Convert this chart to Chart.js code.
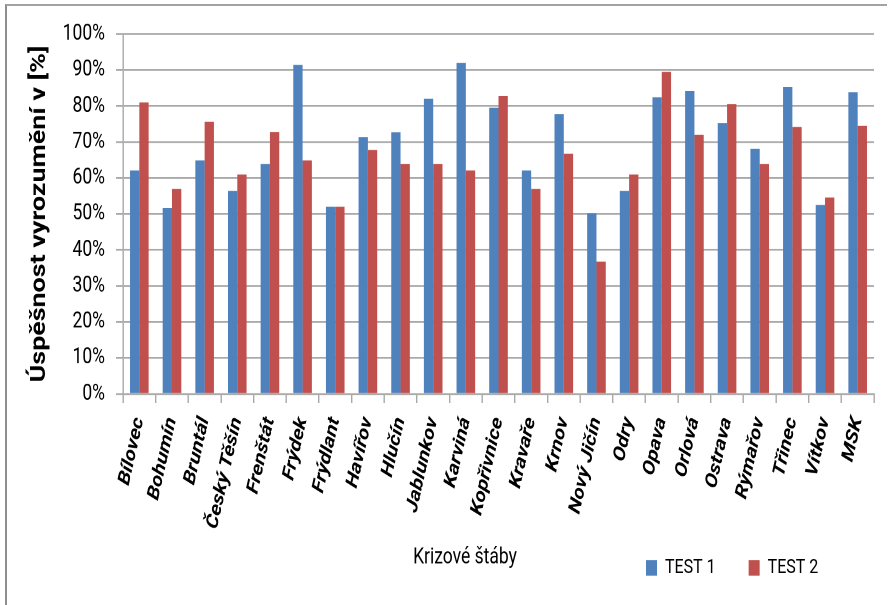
<!DOCTYPE html>
<html>
<head>
<meta charset="utf-8">
<title>Krizové štáby – TEST 1 / TEST 2</title>
<script src="https://cdn.jsdelivr.net/npm/chart.js@4.4.1/dist/chart.umd.min.js"></script>
<style>
  html, body { margin: 0; padding: 0; background: #ffffff; }
  #page { position: relative; width: 890px; height: 605px; overflow: hidden; }
  #frame {
    position: absolute; left: 5px; top: 4px; width: 880px; height: 640px;
    border-left: 2px solid #8e8e8e; border-top: 2px solid #a3a3a3;
    pointer-events: none;
  }
  /* the chart is laid out at 890x473 and shown stretched to the full 605 px height */
  #stretch {
    position: absolute; left: 0; top: 0; width: 890px; height: 473px;
    transform-origin: 0 0;
  }
</style>
</head>
<body>
<div id="page">
  <div id="stretch"><canvas id="chart" width="890" height="473"></canvas></div>
  <div id="frame"></div>
</div>
<script>
// Crisis staffs (krizové štáby) of the Moravian-Silesian region
const categories = [
  'Bílovec', 'Bohumín', 'Bruntál', 'Český Těšín', 'Frenštát', 'Frýdek',
  'Frýdlant', 'Havířov', 'Hlučín', 'Jablunkov', 'Karviná', 'Kopřivnice',
  'Kravaře', 'Krnov', 'Nový Jičín', 'Odry', 'Opava', 'Orlová', 'Ostrava',
  'Rýmařov', 'Třinec', 'Vítkov', 'MSK'
];

// Notification success rate in percent
const test1 = [
  62.1, 51.7, 64.9, 56.4, 63.9, 91.4, 52.0, 71.4, 72.7, 82.0, 92.0, 79.5,
  62.1, 77.8, 50.2, 56.4, 82.4, 84.2, 75.3, 68.1, 85.3, 52.5, 83.8
];
const test2 = [
  81.0, 57.0, 75.6, 61.0, 72.8, 64.9, 52.0, 67.8, 63.9, 63.9, 62.1, 82.8,
  57.0, 66.7, 36.8, 61.0, 89.5, 72.0, 80.5, 63.9, 74.2, 54.6, 74.5
];

const seriesNames = ['TEST 1', 'TEST 2'];

// Value axis: 0 % – 100 % in steps of 10 %
const yMin = 0;
const yMax = 100;
const yStep = 10;

const xAxisTitle = 'Krizové štáby';
const yAxisTitle = 'Úspěšnost vyrozumění v [%]';

// Styling and layout (chart units; the canvas is stretched vertically by STRETCH)
const W = 890, H = 473;
const STRETCH = 605 / H;
document.getElementById('stretch').style.transform = 'scaleY(' + STRETCH + ')';

const BLUE = '#4F81BD';
const RED = '#C0504D';
const GRID = '#a9a9a9';
const FONT = 'Roboto, "Liberation Sans", Arial, sans-serif';

const PAD = { left: 6, top: 26.6, right: 16, bottom: 0 };
const PLOT_LEFT = 123;
const PLOT_BOTTOM = 308;

const LEGEND_FONT = 16;
const LEGEND_BOX_H = 12;
const LEGEND_PAD = 33;
const LEGEND_LEFT = 646;
const LEGEND_MID_Y = 444;

const TITLE_CX = 465;
const TITLE_CY = 436;

// Puts the legend row and the category-axis caption side by side under the labels
const placeCaptions = {
  id: 'placeCaptions',
  afterLayout(chart) {
    const lg = chart.legend;
    if (lg) {
      const dx = LEGEND_LEFT - (lg.left + LEGEND_PAD);
      lg.left += dx; lg.right += dx;
      const itemH = Math.max(LEGEND_FONT, LEGEND_BOX_H);
      lg.top = LEGEND_MID_Y - LEGEND_PAD - itemH / 2;
      lg.bottom = lg.top + itemH + 2 * LEGEND_PAD;
    }
    const tb = chart.titleBlock;
    if (tb) {
      const w = tb.right - tb.left;
      const h = tb.bottom - tb.top;
      tb.left = TITLE_CX - w / 2; tb.right = TITLE_CX + w / 2;
      tb.top = TITLE_CY - h / 2; tb.bottom = tb.top + h;
    }
  }
};

new Chart(document.getElementById('chart'), {
  type: 'bar',
  data: {
    labels: categories,
    datasets: [
      { label: seriesNames[0], data: test1, backgroundColor: BLUE, borderWidth: 0 },
      { label: seriesNames[1], data: test2, backgroundColor: RED, borderWidth: 0 }
    ]
  },
  options: {
    responsive: false,
    animation: false,
    devicePixelRatio: 2,
    layout: { padding: PAD },
    datasets: { bar: { categoryPercentage: 0.57, barPercentage: 1.0 } },
    scales: {
      x: {
        grid: {
          display: true, drawOnChartArea: false, offset: true,
          tickLength: 7, color: GRID, lineWidth: 1.4
        },
        border: { display: true, color: GRID, width: 1.4 },
        ticks: {
          autoSkip: false, minRotation: 74, maxRotation: 74, padding: 9,
          color: '#000',
          font: { family: FONT, size: 17, weight: 'bold', style: 'italic' }
        },
        afterFit(scale) {
          const c = scale.chart;
          const below = (c.legend ? c.legend.height : 0) + (c.titleBlock ? c.titleBlock.height : 0);
          scale.height = c.height - PAD.bottom - below - PLOT_BOTTOM;
        }
      },
      y: {
        min: yMin, max: yMax,
        ticks: {
          stepSize: yStep,
          callback: v => v + '%',
          padding: 11,
          color: '#000',
          font: { family: FONT, size: 17.5 }
        },
        grid: { color: GRID, lineWidth: 1.4, tickLength: 7 },
        border: { display: true, color: GRID, width: 1.4 },
        title: {
          display: true, text: yAxisTitle, color: '#000',
          font: { family: FONT, size: 21, weight: 'bold' },
          padding: { top: 21, bottom: 0 }
        },
        afterFit(scale) { scale.width = PLOT_LEFT - PAD.left; }
      }
    },
    plugins: {
      legend: {
        display: true, position: 'bottom', align: 'start', maxHeight: 1,
        labels: {
          boxWidth: 11, boxHeight: LEGEND_BOX_H, padding: LEGEND_PAD,
          color: '#000', font: { family: FONT, size: LEGEND_FONT }
        }
      },
      title: {
        display: true, text: xAxisTitle, position: 'bottom',
        color: '#000', padding: 0,
        font: { family: FONT, size: 17.5, weight: 'normal', lineHeight: 0.05 }
      },
      tooltip: { enabled: false }
    }
  },
  plugins: [placeCaptions]
});
</script>
</body>
</html>
